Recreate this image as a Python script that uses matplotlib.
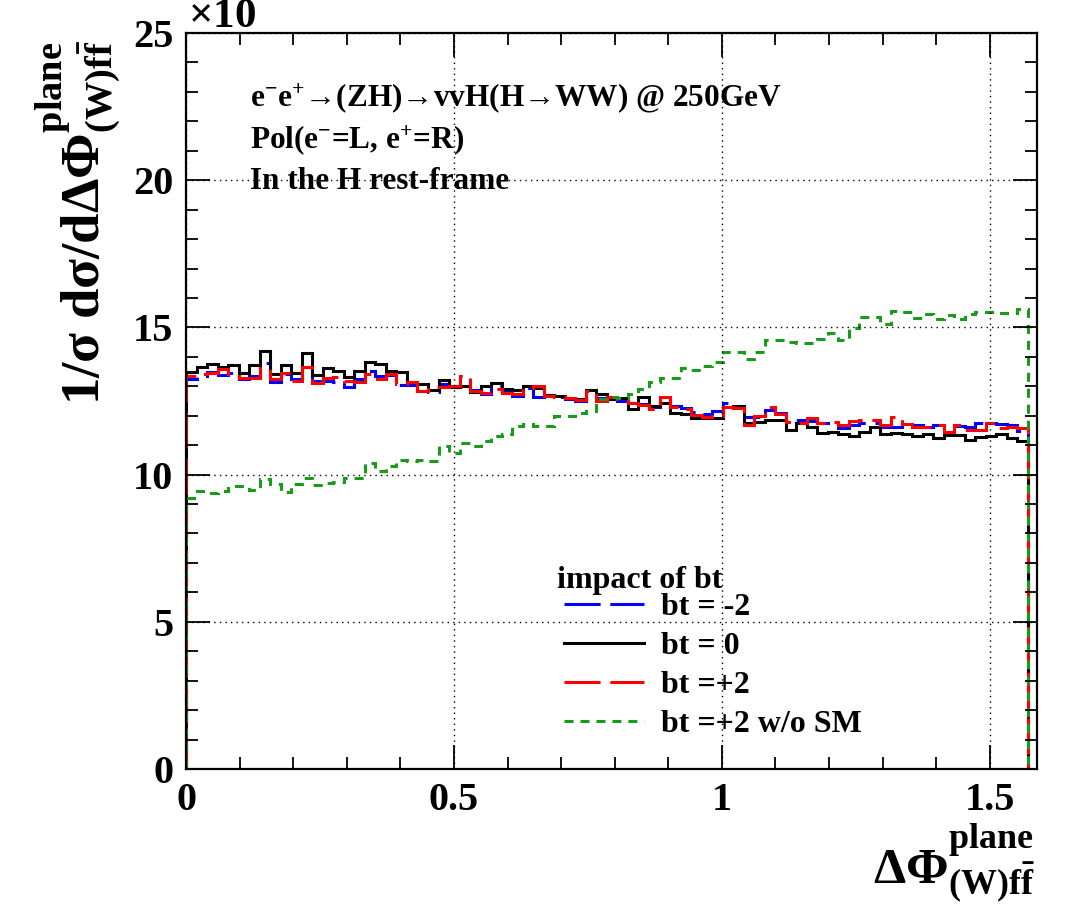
import numpy as np
import matplotlib.pyplot as plt
from matplotlib.lines import Line2D
from matplotlib.ticker import MultipleLocator

plt.rcParams['font.family'] = ['Liberation Serif', 'DejaVu Serif']
plt.rcParams['font.weight'] = 'bold'
plt.rcParams['mathtext.fontset'] = 'custom'
plt.rcParams['mathtext.rm'] = 'Liberation Serif:bold'
plt.rcParams['mathtext.it'] = 'Liberation Serif:bold'
plt.rcParams['mathtext.bf'] = 'Liberation Serif:bold'
plt.rcParams['lines.scale_dashes'] = False

# histogram: 80 bins over [0, pi/2], values in units of 1e-3
n_bins = 80
edges = np.linspace(0, np.pi / 2, n_bins + 1)

bt_m2 = [13.24, 13.34, 13.47, 13.38, 13.45, 13.24, 13.34, 13.79, 13.13, 13.41,
         13.24, 13.64, 13.19, 13.19, 13.15, 12.96, 13.24, 13.53, 13.34, 13.38,
         13.04, 13.04, 12.85, 12.79, 13.07, 12.96, 13.04, 12.88, 12.74, 13.00,
         12.81, 12.68, 12.93, 12.62, 12.71, 12.62, 12.57, 12.49, 12.70, 12.59,
         12.57, 12.51, 12.43, 12.40, 12.28, 12.51, 12.34, 12.25, 12.11, 12.06,
         12.17, 12.44, 12.30, 11.96, 11.94, 12.19, 12.08, 11.83, 11.85, 11.83,
         11.76, 11.68, 11.57, 11.68, 11.74, 11.74, 11.60, 11.62, 11.71, 11.68,
         11.62, 11.68, 11.62, 11.65, 11.60, 11.74, 11.76, 11.71, 11.68, 11.49]

bt_0 = [13.49, 13.64, 13.75, 13.67, 13.72, 13.45, 13.73, 14.21, 13.41, 13.73,
        13.45, 14.13, 13.38, 13.61, 13.53, 13.30, 13.53, 13.83, 13.75, 13.53,
        13.47, 13.13, 13.07, 12.88, 13.22, 12.96, 13.00, 12.81, 13.00, 13.10,
        12.90, 12.88, 13.02, 12.93, 12.70, 12.68, 12.61, 12.57, 12.88, 12.74,
        12.57, 12.59, 12.23, 12.64, 12.34, 12.42, 12.09, 12.06, 11.91, 11.91,
        11.93, 12.30, 12.33, 11.76, 11.80, 11.85, 11.85, 11.53, 11.74, 11.63,
        11.42, 11.46, 11.38, 11.32, 11.46, 11.60, 11.38, 11.43, 11.38, 11.32,
        11.38, 11.23, 11.34, 11.36, 11.17, 11.29, 11.32, 11.38, 11.23, 11.15]

bt_p2 = [13.34, 13.41, 13.45, 13.58, 13.36, 13.28, 13.28, 13.62, 13.24, 13.45,
         13.19, 13.64, 13.11, 13.27, 13.30, 13.19, 13.15, 13.41, 13.24, 13.41,
         13.07, 13.15, 12.83, 12.96, 12.96, 13.00, 13.34, 12.85, 12.77, 12.90,
         12.77, 12.74, 12.88, 13.02, 12.68, 12.64, 12.59, 12.53, 12.85, 12.51,
         12.62, 12.57, 12.43, 12.36, 12.23, 12.62, 12.28, 12.23, 12.02, 11.96,
         11.99, 12.28, 12.25, 11.70, 11.99, 12.28, 12.06, 11.80, 11.76, 11.91,
         11.76, 11.80, 11.68, 11.82, 11.85, 11.87, 11.68, 11.96, 11.73, 11.60,
         11.62, 11.68, 11.46, 11.68, 11.51, 11.51, 11.76, 11.57, 11.60, 11.57]

bt_p2_noSM = [9.20, 9.45, 9.39, 9.45, 9.62, 9.62, 9.46, 9.85, 9.68, 9.42,
              9.68, 9.88, 9.65, 9.70, 9.76, 9.88, 9.88, 10.39, 10.11, 10.30,
              10.49, 10.47, 10.50, 10.45, 10.98, 10.75, 11.07, 10.98, 11.15, 11.32,
              11.38, 11.66, 11.72, 11.66, 11.64, 11.98, 11.98, 12.10, 12.17, 12.57,
              12.64, 12.59, 12.74, 12.90, 13.13, 13.27, 13.27, 13.63, 13.56, 13.69,
              13.83, 14.17, 14.17, 13.91, 14.15, 14.57, 14.57, 14.51, 14.48, 14.48,
              14.59, 14.80, 14.57, 14.97, 15.36, 15.36, 15.10, 15.57, 15.53, 15.31,
              15.45, 15.27, 15.42, 15.27, 15.45, 15.53, 15.53, 15.50, 15.50, 15.61]

labels = ['bt = -2', 'bt = 0', 'bt =+2', 'bt =+2 w/o SM']
colors = ['blue', 'black', 'red', '#1a9a1a']
styles = [(0, (26, 7)), '-', (0, (26, 7)), (0, (6.5, 5))]
series = [bt_m2, bt_0, bt_p2, bt_p2_noSM]

W, H = 1076, 908
fig = plt.figure(figsize=(W / 100, H / 100), dpi=100)
ax = fig.add_axes([186 / W, 1 - 769 / H, (1037 - 186) / W, (769 - 33) / H])

for vals, c, ls in zip(series, colors, styles):
    ax.stairs(vals, edges, baseline=0, color=c, lw=2.2, linestyle=ls)

ax.set_xlim(0, 1.588)
ax.set_ylim(0, 25)
ax.set_xticks([0, 0.5, 1, 1.5])
ax.set_xticklabels(['0', '0.5', '1', '1.5'])
ax.set_yticks([0, 5, 10, 15, 20, 25])
ax.xaxis.set_minor_locator(MultipleLocator(0.1))
ax.yaxis.set_minor_locator(MultipleLocator(1))
ax.tick_params(which='both', direction='in', top=True, right=True, width=1.3)
ax.tick_params(which='major', length=17, labelsize=29, pad=9)
ax.tick_params(which='minor', length=8.5)
for s in ax.spines.values():
    s.set_linewidth(1.6)
ax.grid(True, which='major', color='black', lw=1, linestyle=(0, (1, 3)))

# multiplier, cut at the top edge as in the original
fig.text(188 / W, 1 - 27 / H, r'$\times$10', fontsize=31, va='baseline', ha='left')
fig.text(78 / W, 1 - 405 / H, r'1/$\sigma$ d$\sigma$/d$\Delta\Phi^{plane}_{(W)f\bar{f}}$',
         fontsize=39.5, rotation=90, ha='center', va='bottom')
fig.text(1035 / W, 1 - 905 / H, r'$\Delta\Phi^{plane}_{(W)f\bar{f}}$',
         fontsize=37, ha='right', va='bottom')

fig.text(250 / W, 1 - 106 / H, r'e$^{-}$e$^{+}$→(ZH)→vvH(H→WW) @ 250GeV', fontsize=22.5, va='baseline')
fig.text(250 / W, 1 - 148 / H, r'Pol(e$^{-}$=L, e$^{+}$=R)', fontsize=22.5, va='baseline')
fig.text(250 / W, 1 - 189 / H, 'In the H rest-frame', fontsize=22.5, va='baseline')

fig.text(557 / W, 1 - 588 / H, 'impact of bt', fontsize=23, va='baseline')
handles = [Line2D([], [], color=c, lw=2.2, linestyle=ls) for c, ls in zip(colors, styles)]
ax.legend(handles, labels, loc='upper left',
          bbox_to_anchor=(564 / W, 1 - 593 / H), bbox_transform=fig.transFigure,
          frameon=False, fontsize=23,
          handlelength=2.5, handletextpad=0.55, labelspacing=0.3, borderpad=0, borderaxespad=0)

fig.savefig('out.png', dpi=100)
